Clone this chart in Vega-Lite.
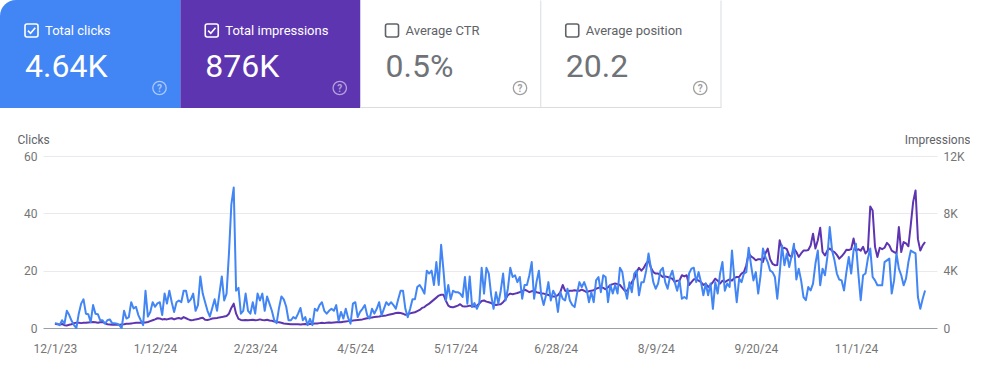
{
"$schema": "https://vega.github.io/schema/vega-lite/v6.json",
"padding": 0,
"background": "#ffffff",
"bounds": "flush",
"spacing": 48,
"config": {"view": {"stroke": null}, "font": "Roboto"},
"datasets": {
"cards": [
{"k": 0, "metric": "Total clicks", "value": "4.64K"},
{"k": 1, "metric": "Total impressions", "value": "876K"},
{"k": 2, "metric": "Average CTR", "value": "0.5%"},
{"k": 3, "metric": "Average position", "value": "20.2"}
],
"daily": [
{"d":"2023-12-01","c":1.7,"i":300},{"d":"2023-12-02","c":1.5,"i":260},{"d":"2023-12-03","c":1,"i":240},{"d":"2023-12-04","c":2.7,"i":280},{"d":"2023-12-05","c":1.5,"i":200},{"d":"2023-12-06","c":6,"i":180},{"d":"2023-12-07","c":4.5,"i":220},{"d":"2023-12-08","c":2.5,"i":260},{"d":"2023-12-09","c":1,"i":340},{"d":"2023-12-10","c":0,"i":360},
{"d":"2023-12-11","c":5,"i":360},{"d":"2023-12-12","c":8.5,"i":340},{"d":"2023-12-13","c":10,"i":360},{"d":"2023-12-14","c":5,"i":360},{"d":"2023-12-15","c":4.8,"i":380},{"d":"2023-12-16","c":2,"i":400},{"d":"2023-12-17","c":8,"i":420},{"d":"2023-12-18","c":5,"i":400},{"d":"2023-12-19","c":4.8,"i":360},{"d":"2023-12-20","c":2.7,"i":400},
{"d":"2023-12-21","c":2.7,"i":420},{"d":"2023-12-22","c":1.5,"i":340},{"d":"2023-12-23","c":2.7,"i":260},{"d":"2023-12-24","c":3,"i":240},{"d":"2023-12-25","c":1.7,"i":220},{"d":"2023-12-26","c":1.7,"i":220},{"d":"2023-12-27","c":1.5,"i":240},{"d":"2023-12-28","c":1,"i":220},{"d":"2023-12-29","c":0,"i":240},{"d":"2023-12-30","c":6,"i":260},{"d":"2023-12-31","c":3.3,"i":300},
{"d":"2024-01-01","c":3.8,"i":300},{"d":"2024-01-02","c":9,"i":320},{"d":"2024-01-03","c":6.8,"i":340},{"d":"2024-01-04","c":7.4,"i":360},{"d":"2024-01-05","c":4.5,"i":360},{"d":"2024-01-06","c":2.7,"i":360},{"d":"2024-01-07","c":1,"i":380},{"d":"2024-01-08","c":13,"i":380},{"d":"2024-01-09","c":4,"i":420},{"d":"2024-01-10","c":5.6,"i":480},
{"d":"2024-01-11","c":9,"i":540},{"d":"2024-01-12","c":7.4,"i":600},{"d":"2024-01-13","c":8.6,"i":680},{"d":"2024-01-14","c":9,"i":660},{"d":"2024-01-15","c":4.5,"i":600},{"d":"2024-01-16","c":12,"i":620},{"d":"2024-01-17","c":8.5,"i":600},{"d":"2024-01-18","c":13,"i":640},{"d":"2024-01-19","c":9,"i":680},{"d":"2024-01-20","c":5.6,"i":600},
{"d":"2024-01-21","c":9,"i":660},{"d":"2024-01-22","c":9.6,"i":700},{"d":"2024-01-23","c":9,"i":640},{"d":"2024-01-24","c":13,"i":760},{"d":"2024-01-25","c":13,"i":680},{"d":"2024-01-26","c":9,"i":600},{"d":"2024-01-27","c":10,"i":540},{"d":"2024-01-28","c":12,"i":560},{"d":"2024-01-29","c":6,"i":600},{"d":"2024-01-30","c":8,"i":620},{"d":"2024-01-31","c":18,"i":680},
{"d":"2024-02-01","c":12,"i":720},{"d":"2024-02-02","c":9,"i":580},{"d":"2024-02-03","c":6,"i":560},{"d":"2024-02-04","c":4,"i":600},{"d":"2024-02-05","c":7,"i":660},{"d":"2024-02-06","c":10,"i":680},{"d":"2024-02-07","c":6,"i":700},{"d":"2024-02-08","c":12,"i":740},{"d":"2024-02-09","c":18,"i":760},{"d":"2024-02-10","c":9.6,"i":800},
{"d":"2024-02-11","c":12,"i":840},{"d":"2024-02-12","c":26,"i":1000},{"d":"2024-02-13","c":43,"i":1400},{"d":"2024-02-14","c":49,"i":1700},{"d":"2024-02-15","c":13,"i":1000},{"d":"2024-02-16","c":14,"i":640},{"d":"2024-02-17","c":5,"i":560},{"d":"2024-02-18","c":6,"i":540},{"d":"2024-02-19","c":12,"i":560},{"d":"2024-02-20","c":6,"i":540},
{"d":"2024-02-21","c":5,"i":560},{"d":"2024-02-22","c":9,"i":580},{"d":"2024-02-23","c":5,"i":540},{"d":"2024-02-24","c":12,"i":560},{"d":"2024-02-25","c":9.6,"i":600},{"d":"2024-02-26","c":12,"i":560},{"d":"2024-02-27","c":6,"i":540},{"d":"2024-02-28","c":11,"i":580},{"d":"2024-02-29","c":8.5,"i":520},
{"d":"2024-03-01","c":6,"i":500},{"d":"2024-03-02","c":2.7,"i":460},{"d":"2024-03-03","c":1.7,"i":420},{"d":"2024-03-04","c":7,"i":400},{"d":"2024-03-05","c":11,"i":360},{"d":"2024-03-06","c":10,"i":320},{"d":"2024-03-07","c":7.5,"i":300},{"d":"2024-03-08","c":2.7,"i":280},{"d":"2024-03-09","c":2.7,"i":260},{"d":"2024-03-10","c":3.8,"i":260},
{"d":"2024-03-11","c":3.3,"i":260},{"d":"2024-03-12","c":5,"i":260},{"d":"2024-03-13","c":7,"i":240},{"d":"2024-03-14","c":2.7,"i":260},{"d":"2024-03-15","c":3.8,"i":280},{"d":"2024-03-16","c":1,"i":260},{"d":"2024-03-17","c":3.2,"i":280},{"d":"2024-03-18","c":1,"i":300},{"d":"2024-03-19","c":6.7,"i":320},{"d":"2024-03-20","c":6,"i":320},
{"d":"2024-03-21","c":8,"i":340},{"d":"2024-03-22","c":9,"i":360},{"d":"2024-03-23","c":6,"i":340},{"d":"2024-03-24","c":5,"i":360},{"d":"2024-03-25","c":6,"i":380},{"d":"2024-03-26","c":6.7,"i":360},{"d":"2024-03-27","c":6,"i":380},{"d":"2024-03-28","c":8,"i":400},{"d":"2024-03-29","c":2.5,"i":420},{"d":"2024-03-30","c":5.6,"i":400},{"d":"2024-03-31","c":3.3,"i":440},
{"d":"2024-04-01","c":6.7,"i":460},{"d":"2024-04-02","c":3.5,"i":480},{"d":"2024-04-03","c":1.5,"i":480},{"d":"2024-04-04","c":8.5,"i":520},{"d":"2024-04-05","c":9,"i":540},{"d":"2024-04-06","c":3.8,"i":560},{"d":"2024-04-07","c":5.6,"i":580},{"d":"2024-04-08","c":6.7,"i":600},{"d":"2024-04-09","c":8,"i":640},{"d":"2024-04-10","c":4.4,"i":680},
{"d":"2024-04-11","c":3.3,"i":700},{"d":"2024-04-12","c":6.7,"i":740},{"d":"2024-04-13","c":5,"i":760},{"d":"2024-04-14","c":6.7,"i":780},{"d":"2024-04-15","c":9,"i":800},{"d":"2024-04-16","c":4.4,"i":840},{"d":"2024-04-17","c":6.7,"i":860},{"d":"2024-04-18","c":9,"i":880},{"d":"2024-04-19","c":8,"i":920},{"d":"2024-04-20","c":9,"i":960},
{"d":"2024-04-21","c":8,"i":1000},{"d":"2024-04-22","c":6.7,"i":1040},{"d":"2024-04-23","c":10,"i":1060},{"d":"2024-04-24","c":13,"i":1040},{"d":"2024-04-25","c":13,"i":1000},{"d":"2024-04-26","c":6.7,"i":920},{"d":"2024-04-27","c":3.8,"i":960},{"d":"2024-04-28","c":6.7,"i":1020},{"d":"2024-04-29","c":10,"i":1060},{"d":"2024-04-30","c":10,"i":1100},
{"d":"2024-05-01","c":14.3,"i":1180},{"d":"2024-05-02","c":15,"i":1260},{"d":"2024-05-03","c":13.7,"i":1400},{"d":"2024-05-04","c":12,"i":1460},{"d":"2024-05-05","c":20,"i":1600},{"d":"2024-05-06","c":19,"i":1700},{"d":"2024-05-07","c":20,"i":1840},{"d":"2024-05-08","c":15,"i":1980},{"d":"2024-05-09","c":23,"i":2120},{"d":"2024-05-10","c":15,"i":2260},
{"d":"2024-05-11","c":29,"i":2320},{"d":"2024-05-12","c":20,"i":2320},{"d":"2024-05-13","c":9.6,"i":1900},{"d":"2024-05-14","c":15,"i":1560},{"d":"2024-05-15","c":10,"i":1460},{"d":"2024-05-16","c":13,"i":1440},{"d":"2024-05-17","c":12.5,"i":1500},{"d":"2024-05-18","c":12.5,"i":1560},{"d":"2024-05-19","c":12,"i":1660},{"d":"2024-05-20","c":10.8,"i":1520},
{"d":"2024-05-21","c":17.8,"i":1500},{"d":"2024-05-22","c":8.5,"i":1520},{"d":"2024-05-23","c":18,"i":1560},{"d":"2024-05-24","c":7.3,"i":1520},{"d":"2024-05-25","c":8.7,"i":1500},{"d":"2024-05-26","c":6.7,"i":1560},{"d":"2024-05-27","c":8.5,"i":1700},{"d":"2024-05-28","c":21,"i":1880},{"d":"2024-05-29","c":12,"i":1920},{"d":"2024-05-30","c":21,"i":1840},{"d":"2024-05-31","c":19,"i":1800},
{"d":"2024-06-01","c":11.4,"i":1740},{"d":"2024-06-02","c":6.7,"i":1640},{"d":"2024-06-03","c":12.5,"i":1600},{"d":"2024-06-04","c":8.5,"i":1640},{"d":"2024-06-05","c":13,"i":1660},{"d":"2024-06-06","c":19,"i":1800},{"d":"2024-06-07","c":9.6,"i":2000},{"d":"2024-06-08","c":13.7,"i":2300},{"d":"2024-06-09","c":21,"i":2400},{"d":"2024-06-10","c":17.8,"i":2360},
{"d":"2024-06-11","c":18.4,"i":2400},{"d":"2024-06-12","c":16,"i":2440},{"d":"2024-06-13","c":17.8,"i":2500},{"d":"2024-06-14","c":10.2,"i":2560},{"d":"2024-06-15","c":15,"i":2680},{"d":"2024-06-16","c":15,"i":2600},{"d":"2024-06-17","c":18.4,"i":2500},{"d":"2024-06-18","c":23,"i":2560},{"d":"2024-06-19","c":10.2,"i":2600},{"d":"2024-06-20","c":16,"i":2500},
{"d":"2024-06-21","c":20,"i":2460},{"d":"2024-06-22","c":11.4,"i":2400},{"d":"2024-06-23","c":8,"i":2400},{"d":"2024-06-24","c":11.4,"i":2360},{"d":"2024-06-25","c":16,"i":2300},{"d":"2024-06-26","c":9.6,"i":2240},{"d":"2024-06-27","c":13,"i":2200},{"d":"2024-06-28","c":11.4,"i":2200},{"d":"2024-06-29","c":5.6,"i":2300},{"d":"2024-06-30","c":12.5,"i":2500},
{"d":"2024-07-01","c":10.2,"i":3000},{"d":"2024-07-02","c":9.6,"i":2600},{"d":"2024-07-03","c":13.7,"i":2560},{"d":"2024-07-04","c":9.6,"i":2600},{"d":"2024-07-05","c":8,"i":2600},{"d":"2024-07-06","c":7.3,"i":2640},{"d":"2024-07-07","c":12,"i":2600},{"d":"2024-07-08","c":16,"i":2600},{"d":"2024-07-09","c":14.3,"i":2680},{"d":"2024-07-10","c":16,"i":2600},
{"d":"2024-07-11","c":13.7,"i":2500},{"d":"2024-07-12","c":9,"i":2560},{"d":"2024-07-13","c":12.5,"i":2600},{"d":"2024-07-14","c":9,"i":2640},{"d":"2024-07-15","c":16.6,"i":2740},{"d":"2024-07-16","c":17.8,"i":2800},{"d":"2024-07-17","c":12.5,"i":2860},{"d":"2024-07-18","c":18.4,"i":2800},{"d":"2024-07-19","c":17.8,"i":2700},{"d":"2024-07-20","c":9,"i":2840},
{"d":"2024-07-21","c":15,"i":3000},{"d":"2024-07-22","c":12,"i":3060},{"d":"2024-07-23","c":15,"i":3100},{"d":"2024-07-24","c":12,"i":3060},{"d":"2024-07-25","c":21,"i":3000},{"d":"2024-07-26","c":19.5,"i":2800},{"d":"2024-07-27","c":13.7,"i":2600},{"d":"2024-07-28","c":10.2,"i":2600},{"d":"2024-07-29","c":16,"i":2900},{"d":"2024-07-30","c":12.5,"i":3200},{"d":"2024-07-31","c":19,"i":3440},
{"d":"2024-08-01","c":20,"i":3900},{"d":"2024-08-02","c":11.4,"i":4200},{"d":"2024-08-03","c":16,"i":4000},{"d":"2024-08-04","c":16,"i":4200},{"d":"2024-08-05","c":20,"i":4500},{"d":"2024-08-06","c":26,"i":4720},{"d":"2024-08-07","c":21,"i":4200},{"d":"2024-08-08","c":16,"i":3900},{"d":"2024-08-09","c":13.7,"i":3800},{"d":"2024-08-10","c":15.5,"i":3800},
{"d":"2024-08-11","c":20,"i":3700},{"d":"2024-08-12","c":21,"i":3560},{"d":"2024-08-13","c":16,"i":3600},{"d":"2024-08-14","c":13.7,"i":3560},{"d":"2024-08-15","c":17.8,"i":3500},{"d":"2024-08-16","c":20,"i":3440},{"d":"2024-08-17","c":16,"i":3200},{"d":"2024-08-18","c":13,"i":3300},{"d":"2024-08-19","c":16.6,"i":3320},{"d":"2024-08-20","c":10.2,"i":3680},
{"d":"2024-08-21","c":10.8,"i":3600},{"d":"2024-08-22","c":10.2,"i":3680},{"d":"2024-08-23","c":19,"i":3000},{"d":"2024-08-24","c":20.7,"i":3200},{"d":"2024-08-25","c":21,"i":3400},{"d":"2024-08-26","c":16,"i":3400},{"d":"2024-08-27","c":19.5,"i":3300},{"d":"2024-08-28","c":16,"i":3200},{"d":"2024-08-29","c":11.4,"i":3000},{"d":"2024-08-30","c":15.5,"i":3100},{"d":"2024-08-31","c":11.4,"i":2860},
{"d":"2024-09-01","c":15.5,"i":3000},{"d":"2024-09-02","c":6.7,"i":3200},{"d":"2024-09-03","c":16,"i":3440},{"d":"2024-09-04","c":12,"i":3300},{"d":"2024-09-05","c":19,"i":3100},{"d":"2024-09-06","c":23,"i":3300},{"d":"2024-09-07","c":13,"i":3200},{"d":"2024-09-08","c":15.5,"i":3300},{"d":"2024-09-09","c":14.3,"i":3400},{"d":"2024-09-10","c":27,"i":3300},
{"d":"2024-09-11","c":17.2,"i":3500},{"d":"2024-09-12","c":9,"i":3560},{"d":"2024-09-13","c":17.2,"i":3560},{"d":"2024-09-14","c":16,"i":3800},{"d":"2024-09-15","c":19,"i":3900},{"d":"2024-09-16","c":19.5,"i":4380},{"d":"2024-09-17","c":28,"i":5200},{"d":"2024-09-18","c":21.9,"i":5000},{"d":"2024-09-19","c":16.6,"i":4880},{"d":"2024-09-20","c":19.5,"i":4720},
{"d":"2024-09-21","c":12,"i":4800},{"d":"2024-09-22","c":18.4,"i":4800},{"d":"2024-09-23","c":27.7,"i":4600},{"d":"2024-09-24","c":24.8,"i":5200},{"d":"2024-09-25","c":23,"i":5540},{"d":"2024-09-26","c":20,"i":4800},{"d":"2024-09-27","c":19.5,"i":4480},{"d":"2024-09-28","c":17.8,"i":4380},{"d":"2024-09-29","c":10.2,"i":4400},{"d":"2024-09-30","c":19,"i":6120},
{"d":"2024-10-01","c":28.8,"i":5540},{"d":"2024-10-02","c":21.9,"i":5600},{"d":"2024-10-03","c":26,"i":5500},{"d":"2024-10-04","c":21.3,"i":5060},{"d":"2024-10-05","c":25,"i":4960},{"d":"2024-10-06","c":29.4,"i":5540},{"d":"2024-10-07","c":16.9,"i":5300},{"d":"2024-10-08","c":20.7,"i":4960},{"d":"2024-10-09","c":16.6,"i":5200},{"d":"2024-10-10","c":10.8,"i":5400},
{"d":"2024-10-11","c":9.7,"i":5400},{"d":"2024-10-12","c":14.3,"i":5440},{"d":"2024-10-13","c":13.1,"i":5760},{"d":"2024-10-14","c":15.5,"i":6580},{"d":"2024-10-15","c":22.4,"i":5540},{"d":"2024-10-16","c":27,"i":6120},{"d":"2024-10-17","c":14.9,"i":7000},{"d":"2024-10-18","c":20.7,"i":5300},{"d":"2024-10-19","c":18.4,"i":5060},{"d":"2024-10-20","c":24.8,"i":5400},
{"d":"2024-10-21","c":35.2,"i":5540},{"d":"2024-10-22","c":27,"i":5380},{"d":"2024-10-23","c":23.6,"i":5300},{"d":"2024-10-24","c":19,"i":5100},{"d":"2024-10-25","c":16.9,"i":4840},{"d":"2024-10-26","c":16.6,"i":5000},{"d":"2024-10-27","c":13.1,"i":5200},{"d":"2024-10-28","c":19.5,"i":5460},{"d":"2024-10-29","c":24.8,"i":5440},{"d":"2024-10-30","c":19,"i":5500},{"d":"2024-10-31","c":27,"i":6240},
{"d":"2024-11-01","c":29.4,"i":5400},{"d":"2024-11-02","c":19,"i":5500},{"d":"2024-11-03","c":9.7,"i":5400},{"d":"2024-11-04","c":18.4,"i":5660},{"d":"2024-11-05","c":19,"i":5200},{"d":"2024-11-06","c":24.2,"i":5400},{"d":"2024-11-07","c":27.7,"i":8480},{"d":"2024-11-08","c":17.8,"i":8200},{"d":"2024-11-09","c":16.6,"i":5660},{"d":"2024-11-10","c":14.9,"i":4960},
{"d":"2024-11-11","c":14.9,"i":5600},{"d":"2024-11-12","c":14.9,"i":5500},{"d":"2024-11-13","c":23,"i":5600},{"d":"2024-11-14","c":23.6,"i":5940},{"d":"2024-11-15","c":24.2,"i":5760},{"d":"2024-11-16","c":12,"i":5400},{"d":"2024-11-17","c":16.6,"i":5300},{"d":"2024-11-18","c":26,"i":5200},{"d":"2024-11-19","c":20.7,"i":7040},{"d":"2024-11-20","c":18.4,"i":5300},
{"d":"2024-11-21","c":14.9,"i":6000},{"d":"2024-11-22","c":17.2,"i":5900},{"d":"2024-11-23","c":23,"i":5700},{"d":"2024-11-24","c":27,"i":7200},{"d":"2024-11-25","c":26.5,"i":8800},{"d":"2024-11-26","c":26,"i":9600},{"d":"2024-11-27","c":10.8,"i":6200},{"d":"2024-11-28","c":6.7,"i":5400},{"d":"2024-11-29","c":10.2,"i":5760},{"d":"2024-11-30","c":13.1,"i":6000}
]
},
"vconcat": [
{
"width": 894,
"height": 108,
"data": {"name": "cards"},
"encoding": {
"x": {"field": "metric", "type": "nominal", "scale": {"domain": ["Total clicks", "Total impressions", "Average CTR", "Average position"], "range": [-43, 678], "paddingInner": 0, "paddingOuter": 0}, "axis": null}
},
"layer": [
{
"transform": [{"filter": "datum.k >= 1"}],
"mark": {"type": "rect"},
"encoding": {
"y": {"datum": 0, "type": "quantitative", "scale": {"domain": [0, 108], "reverse": true, "nice": false, "zero": false}, "axis": null},
"y2": {"datum": 108},
"fill": {"field": "metric", "type": "nominal", "scale": {"domain": ["Total clicks", "Total impressions", "Average CTR", "Average position"], "range": ["#4285f4", "#5e35b1", "#ffffff", "#ffffff"]}, "legend": null}
}
},
{
"transform": [{"filter": "datum.k >= 2"}],
"mark": {"type": "rect", "fill": "#dadce0"},
"encoding": {
"y": {"datum": 107, "type": "quantitative"},
"y2": {"datum": 108}
}
},
{
"transform": [{"filter": "datum.k >= 2"}],
"mark": {"type": "rule", "color": "#dadce0", "strokeWidth": 1},
"encoding": {
"x": {"field": "metric", "type": "nominal", "bandPosition": 1},
"y": {"datum": 0.5, "type": "quantitative"},
"y2": {"datum": 108}
}
},
{
"transform": [{"filter": "datum.k == 0"}],
"mark": {"type": "rect", "cornerRadiusTopLeft": 16, "fill": "#4285f4"},
"encoding": {
"y": {"datum": 0, "type": "quantitative"},
"y2": {"datum": 108}
}
},
{
"mark": {"type": "point", "filled": false, "strokeWidth": 1.6, "size": 169, "xOffset": 31.5, "shape": "M-0.7,-1 H0.7 A0.3,0.3 0 0 1 1,-0.7 V0.7 A0.3,0.3 0 0 1 0.7,1 H-0.7 A0.3,0.3 0 0 1 -1,0.7 V-0.7 A0.3,0.3 0 0 1 -0.7,-1 Z"},
"encoding": {
"x": {"field": "metric", "type": "nominal", "bandPosition": 0},
"y": {"datum": 30.5, "type": "quantitative"},
"stroke": {"condition": {"test": "datum.k < 2", "value": "#ffffff"}, "value": "#5f6368"},
"opacity": {"value": 1}
}
},
{
"transform": [{"filter": "datum.k < 2"}],
"mark": {"type": "point", "filled": false, "strokeWidth": 1.6, "size": 169, "xOffset": 31.5, "stroke": "#ffffff", "shape": "M-0.55,0.02 L-0.15,0.42 L0.58,-0.42"},
"encoding": {
"x": {"field": "metric", "type": "nominal", "bandPosition": 0},
"y": {"datum": 30.5, "type": "quantitative"},
"opacity": {"value": 1}
}
},
{
"mark": {"type": "text", "align": "left", "baseline": "middle", "dx": 45, "fontSize": 13, "font": "Roboto"},
"encoding": {
"x": {"field": "metric", "type": "nominal", "bandPosition": 0},
"y": {"datum": 30.5, "type": "quantitative"},
"text": {"field": "metric"},
"color": {"condition": {"test": "datum.k < 2", "value": "#ffffff"}, "value": "#5f6368"}
}
},
{
"mark": {"type": "text", "align": "left", "baseline": "alphabetic", "dx": 25, "fontSize": 32, "font": "Roboto"},
"encoding": {
"x": {"field": "metric", "type": "nominal", "bandPosition": 0},
"y": {"datum": 77, "type": "quantitative"},
"text": {"field": "value"},
"color": {"condition": {"test": "datum.k < 2", "value": "#ffffff"}, "value": "#6f7378"}
}
},
{
"mark": {"type": "point", "shape": "circle", "filled": false, "strokeWidth": 1.3, "size": 180, "xOffset": 159.5},
"encoding": {
"x": {"field": "metric", "type": "nominal", "bandPosition": 0},
"y": {"datum": 88, "type": "quantitative"},
"stroke": {"condition": [{"test": "datum.k == 0", "value": "#a9c8fb"}, {"test": "datum.k == 1", "value": "#b3a2da"}], "value": "#a0a0a0"},
"opacity": {"value": 1}
}
},
{
"mark": {"type": "text", "align": "center", "baseline": "middle", "dx": 159.5, "dy": 0.5, "fontSize": 10, "fontWeight": "bold", "font": "Roboto", "text": "?"},
"encoding": {
"x": {"field": "metric", "type": "nominal", "bandPosition": 0},
"y": {"datum": 88, "type": "quantitative"},
"color": {"condition": [{"test": "datum.k == 0", "value": "#a9c8fb"}, {"test": "datum.k == 1", "value": "#b3a2da"}], "value": "#a0a0a0"}
}
}
]
},
{
"width": 894,
"height": 172,
"data": {"name": "daily"},
"encoding": {
"x": {
"field": "d", "type": "temporal",
"scale": {"type": "utc", "domain": [{"year": 2023, "month": 11, "date": 26, "utc": true}, {"year": 2024, "month": 12, "date": 5, "utc": true}]},
"axis": {
"title": null, "grid": false, "domain": false, "ticks": false, "tickSize": 0,
"values": [
{"year": 2023, "month": 12, "date": 1, "utc": true},
{"year": 2024, "month": 1, "date": 12, "utc": true},
{"year": 2024, "month": 2, "date": 23, "utc": true},
{"year": 2024, "month": 4, "date": 5, "utc": true},
{"year": 2024, "month": 5, "date": 17, "utc": true},
{"year": 2024, "month": 6, "date": 28, "utc": true},
{"year": 2024, "month": 8, "date": 9, "utc": true},
{"year": 2024, "month": 9, "date": 20, "utc": true},
{"year": 2024, "month": 11, "date": 1, "utc": true}
],
"labelExpr": "utcFormat(datum.value, '%-m/%-d/%y')",
"labelPadding": 15, "labelFontSize": 12, "labelColor": "#757575", "labelFont": "Roboto"
}
}
},
"layer": [
{
"mark": {"type": "line", "color": "#5e35b1", "strokeWidth": 2, "strokeJoin": "round"},
"encoding": {
"y": {
"field": "i", "type": "quantitative",
"scale": {"domain": [0, 12000], "nice": false},
"axis": {
"orient": "right", "title": "Impressions", "titleAngle": 0, "titleAlign": "right", "titleBaseline": "alphabetic",
"titleX": 33, "titleY": -13, "titleFontSize": 12, "titleFontWeight": "normal", "titleColor": "#5f6368", "titleFont": "Roboto",
"values": [0, 4000, 8000, 12000],
"labelExpr": "datum.value === 0 ? '0' : format(datum.value / 1000, 'd') + 'K'",
"grid": false, "domain": false, "ticks": false, "tickSize": 0, "labelPadding": 6,
"labelFontSize": 12, "labelColor": "#757575", "labelFont": "Roboto"
}
}
}
},
{
"mark": {"type": "line", "color": "#4285f4", "strokeWidth": 2, "strokeJoin": "round"},
"encoding": {
"y": {
"field": "c", "type": "quantitative",
"scale": {"domain": [0, 60], "nice": false},
"axis": {
"orient": "left", "title": "Clicks", "titleAngle": 0, "titleAlign": "left", "titleBaseline": "alphabetic",
"titleX": -26, "titleY": -13, "titleFontSize": 12, "titleFontWeight": "normal", "titleColor": "#5f6368", "titleFont": "Roboto",
"values": [0, 20, 40, 60],
"grid": true,
"gridColor": {"condition": {"test": "datum.value === 0", "value": "#9aa0a6"}, "value": "#e8eaed"},
"domain": false, "ticks": false, "tickSize": 0, "labelPadding": 6,
"labelFontSize": 12, "labelColor": "#757575", "labelFont": "Roboto"
}
}
}
}
],
"resolve": {"scale": {"y": "independent"}}
}
]
}
